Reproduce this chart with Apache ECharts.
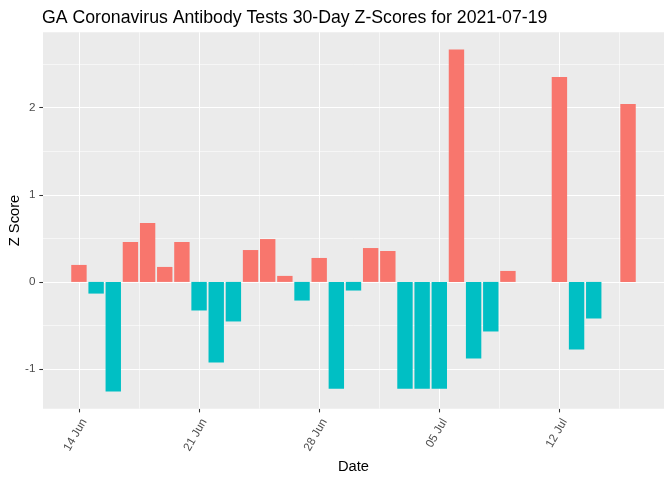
<!DOCTYPE html>
<html>
<head>
<meta charset="utf-8">
<script src="https://cdn.jsdelivr.net/npm/echarts@6/dist/echarts.min.js"></script>
<style>
  html, body { margin: 0; padding: 0; background: #ffffff; }
  #chart { width: 672px; height: 480px; }
</style>
</head>
<body>
<div id="chart"></div>
<script>
// ---- data ----
const dates = [
  '2021-06-14','2021-06-15','2021-06-16','2021-06-17','2021-06-18','2021-06-19','2021-06-20',
  '2021-06-21','2021-06-22','2021-06-23','2021-06-24','2021-06-25','2021-06-26','2021-06-27',
  '2021-06-28','2021-06-29','2021-06-30','2021-07-01','2021-07-02','2021-07-03','2021-07-04',
  '2021-07-05','2021-07-06','2021-07-07','2021-07-08','2021-07-09','2021-07-10','2021-07-11',
  '2021-07-12','2021-07-13','2021-07-14','2021-07-15','2021-07-16'
];
const zScores = [
  0.195, -0.134, -1.259, 0.458, 0.676, 0.172, 0.458,
  -0.328, -0.924, -0.454, 0.366, 0.492, 0.069, -0.214,
  0.275, -1.225, -0.099, 0.389, 0.355, -1.225, -1.225,
  -1.225, 2.669, -0.878, -0.569, 0.126, null, null,
  2.352, -0.775, -0.420, null, 2.042
];
const tickDates = ['2021-06-14','2021-06-21','2021-06-28','2021-07-05','2021-07-12'];
const tickLabels = ['14 Jun','21 Jun','28 Jun','05 Jul','12 Jul'];
const minorTickDates = ['2021-06-17T12:00','2021-06-24T12:00','2021-07-01T12:00','2021-07-08T12:00','2021-07-15T12:00'];
const yTicks = [-1, 0, 1, 2];
const yMinorTicks = [-0.5, 0.5, 1.5, 2.5];
const titleText = 'GA Coronavirus Antibody Tests 30-Day Z-Scores for 2021-07-19';

// ---- helpers ----
const DAY = 86400000;
const t0 = Date.parse(dates[0] + 'T00:00');
const dayOf = d => (Date.parse(d.length > 10 ? d : d + 'T00:00') - t0) / DAY;
const tickDays = tickDates.map(dayOf);
const minorDays = minorTickDates.map(dayOf);

// ggplot-like expansion (5%) around bar extents
const barFrac = 0.9;
const firstX = dayOf(dates[0]) - barFrac / 2;
const lastX = dayOf(dates[dates.length - 1]) + barFrac / 2;
const xSpan = lastX - firstX;
const xMin = firstX - 0.05 * xSpan;
const xMax = lastX + 0.05 * xSpan;
const vals = zScores.filter(v => v !== null);
const yLo = Math.min(...vals), yHi = Math.max(...vals);
const ySpan = yHi - yLo;
const yMin = yLo - 0.05 * ySpan;
const yMax = yHi + 0.05 * ySpan;

const FONT = 'Liberation Sans, Arial, sans-serif';
const POS = '#F8766D', NEG = '#00BFC4';

const seriesData = dates.map((d, i) => ({
  value: [dayOf(d), zScores[i]],
  itemStyle: { color: zScores[i] !== null && zScores[i] >= 0 ? POS : NEG }
}));

const gridLine = (key, v, w) => ({ [key]: v, lineStyle: { color: '#FFFFFF', width: w, type: 'solid' } });
const gridLines = [].concat(
  minorDays.map(v => gridLine('xAxis', v, 0.55)),
  yMinorTicks.map(v => gridLine('yAxis', v, 0.55)),
  tickDays.map(v => gridLine('xAxis', v, 1.07)),
  yTicks.map(v => gridLine('yAxis', v, 1.07))
);

const chart = echarts.init(document.getElementById('chart'), null, { renderer: 'canvas' });
chart.setOption({
  animation: false,
  backgroundColor: '#ffffff',
  title: {
    text: titleText,
    left: 37, top: 4,
    textStyle: { fontFamily: FONT, fontSize: 17.7, fontWeight: 'normal', color: '#000000' }
  },
  grid: {
    left: 43, right: 8, top: 32.3, bottom: 71.3,
    show: true, backgroundColor: '#EBEBEB', borderWidth: 0,
    containLabel: false, outerBoundsMode: 'none'
  },
  xAxis: {
    type: 'value', min: xMin, max: xMax, position: 'bottom',
    axisLine: { show: false, onZero: false },
    axisTick: { show: true, customValues: tickDays, length: 3.7, lineStyle: { color: '#333333', width: 1.07 } },
    axisLabel: {
      customValues: tickDays, rotate: 60, margin: 8,
      align: 'right', verticalAlign: 'top',
      color: '#4D4D4D', fontSize: 11.7, fontFamily: FONT,
      formatter: v => { const k = tickDays.findIndex(t => Math.abs(t - v) < 1e-6); return k >= 0 ? tickLabels[k] : ''; }
    },
    splitLine: { show: false },
    name: 'Date', nameLocation: 'middle', nameGap: 51, nameMoveOverlap: false,
    nameTextStyle: { fontFamily: FONT, fontSize: 14.7, color: '#000000' }
  },
  yAxis: {
    type: 'value', min: yMin, max: yMax, position: 'left',
    axisLine: { show: false, onZero: false },
    axisTick: { show: true, customValues: yTicks, length: 3.7, lineStyle: { color: '#333333', width: 1.07 } },
    axisLabel: {
      customValues: yTicks, margin: 7.5,
      color: '#4D4D4D', fontSize: 11.7, fontFamily: FONT,
      formatter: v => String(Math.round(v))
    },
    splitLine: { show: false },
    name: 'Z Score', nameLocation: 'middle', nameGap: 21, nameRotate: 90, nameMoveOverlap: false,
    nameTextStyle: { fontFamily: FONT, fontSize: 14.7, color: '#000000' }
  },
  series: [
    {
      type: 'line', z: 1, silent: true, data: [],
      markLine: {
        z: 1, silent: true, symbol: ['none', 'none'], animation: false,
        label: { show: false }, emphasis: { disabled: true },
        data: gridLines
      }
    },
    {
      type: 'bar', z: 3,
      barWidth: 15.4,
      data: seriesData
    }
  ]
});
</script>
</body>
</html>
